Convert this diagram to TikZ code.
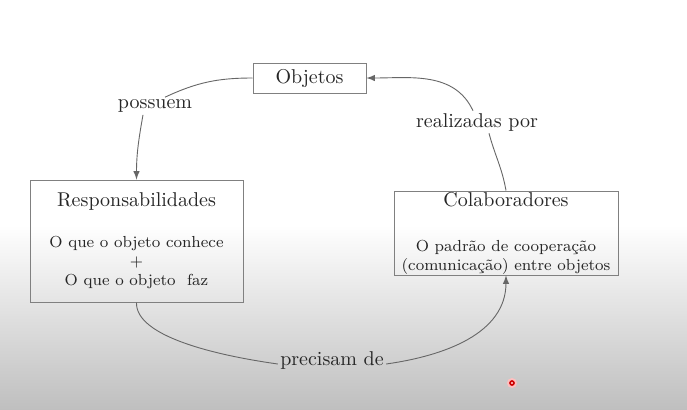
\documentclass[tikz,border=0pt]{standalone}
\usepackage{tikz}

\begin{document}
\begin{tikzpicture}[x=0.5pt,y=-0.5pt,
	box/.style={draw=black!50,line width=0.5pt,text=black!85,align=center,inner sep=0pt},
	lbl/.style={text=black!85,inner sep=1pt},
	seta/.style={draw=black!60,line width=0.45pt}]
	\useasboundingbox (0,0) rectangle (687,409);
	\fill[white] (0,0) rectangle (687,409);
	\shade[top color=white,bottom color=black!25] (0,225) rectangle (687,409);
	\node[box,minimum width=56.5pt,minimum height=15pt] (obj) at (309.5,78) {Objetos};
	\node[box,font=\footnotesize,minimum width=106.5pt,minimum height=61pt] (resp) at (136.5,241) {\normalsize Responsabilidades\\[11pt]O que o objeto conhece\\+\\O que o objeto\ \ faz};
	\node[box,font=\footnotesize,minimum width=112pt,minimum height=42pt] (colab) at (506,233) {\normalsize Colaboradores\\[13pt]O padr\~ao de coopera\c{c}\~ao\\(comunica\c{c}\~ao) entre objetos};
	\node[lbl] (possuem) at (155,106) {possuem};
	\node[lbl] (realiz) at (477,122) {realizadas por};
	\node[lbl] (precis) at (332,360) {precisam de};
	\draw[seta] (obj.west) to[out=180,in=25] ([xshift=5pt]possuem.north);
	\draw[seta,-latex] ([xshift=-6pt]possuem.south) to[out=-100,in=90] (resp.north);
	\draw[seta] (colab.north) to[out=100,in=-75] ([xshift=6pt]realiz.south);
	\draw[seta,-latex] ([xshift=-2pt]realiz.north) to[out=115,in=0] (obj.east);
	\draw[seta] (resp.south) to[out=-92,in=172,out looseness=0.55,in looseness=1.1] ([yshift=-2pt]precis.west);
	\draw[seta,-latex] ([yshift=-2pt]precis.east) to[out=8,in=-90] (colab.south);
	\fill[red!25] (512,383) circle (5);
	\draw[red!80!black,line width=0.8pt] (512,383) circle (2);
\end{tikzpicture}
\end{document}
